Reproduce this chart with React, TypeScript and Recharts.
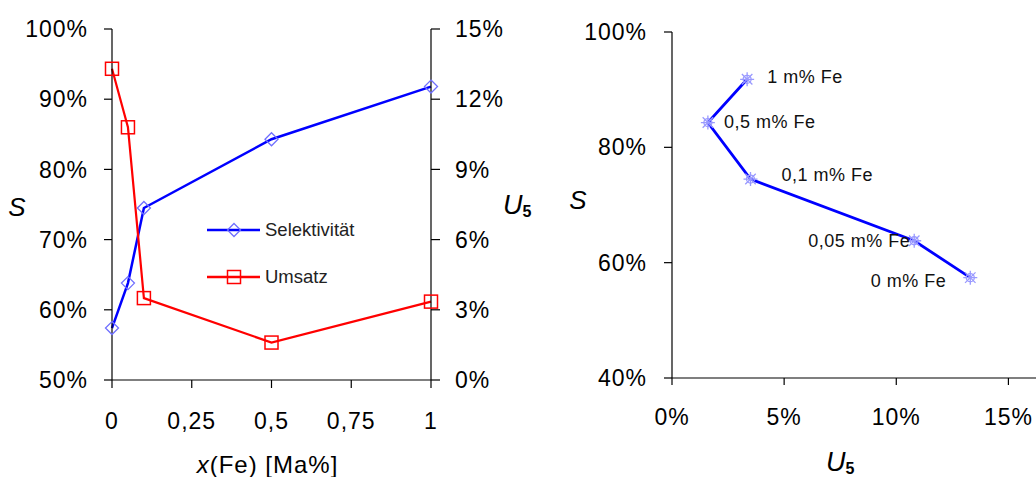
import { LineChart, Line, XAxis, YAxis, LabelList } from "recharts";

// Fe content of the catalysts [Ma%]
const xFe = [0, 0.05, 0.1, 0.5, 1];
// Selektivität S [%]
const selectivity = [57.4, 63.8, 74.5, 84.3, 91.8];
// Umsatz U5 [%]
const conversion = [13.3, 10.8, 3.5, 1.6, 3.35];

const leftXTicks = [0, 0.25, 0.5, 0.75, 1];
const leftSTicks = [50, 60, 70, 80, 90, 100];
const leftUTicks = [0, 3, 6, 9, 12, 15];
const rightUTicks = [0, 5, 10, 15];
const rightSTicks = [40, 60, 80, 100];

const leftData = xFe.map((x, i) => ({ x, s: selectivity[i], u: conversion[i] }));
const rightData = xFe.map((x, i) => ({
  name: `${String(x).replace(".", ",")} m% Fe`,
  u: conversion[i],
  s: selectivity[i],
}));

const FONT = "'Liberation Sans', Arial, sans-serif";
const tickStyle = { fill: "#000", fontSize: 23, fontFamily: FONT, letterSpacing: 1 };
const axisLine = { stroke: "#000", strokeWidth: 1.2 };
const pct = (v: number) => `${v}%`;
const comma = (v: number) => String(v).replace(".", ",");

// where each point label sits relative to its marker (right chart)
const labelPlacement = [
  { dx: -24, dy: 3, anchor: "end" },
  { dx: -4, dy: 0, anchor: "end" },
  { dx: 31, dy: -4, anchor: "start" },
  { dx: 16, dy: -1, anchor: "start" },
  { dx: 20, dy: -2, anchor: "start" },
];

function Diamond({ cx, cy }: any) {
  const r = 6.5;
  return (
    <path
      d={`M${cx},${cy - r}L${cx + r},${cy}L${cx},${cy + r}L${cx - r},${cy}Z`}
      fill="none"
      stroke="#6f6fff"
      strokeWidth={1.3}
    />
  );
}

function Square({ cx, cy }: any) {
  const r = 6.5;
  return <rect x={cx - r} y={cy - r} width={2 * r} height={2 * r} fill="none" stroke="#ff0000" strokeWidth={1.5} />;
}

function Star({ cx, cy }: any) {
  const r = 7;
  const d = r * 0.75;
  return (
    <g stroke="#9a9aff" strokeWidth={1.3} fill="none">
      <path d={`M${cx - d},${cy - d}L${cx + d},${cy + d}M${cx - d},${cy + d}L${cx + d},${cy - d}`} />
      <path d={`M${cx - r},${cy}L${cx + r},${cy}M${cx},${cy - r}L${cx},${cy + r}`} />
      <circle cx={cx} cy={cy} r={4} />
    </g>
  );
}

function LegendBox() {
  const rows = [
    { label: "Selektivität", color: "#0000ff", Mark: Diamond },
    { label: "Umsatz", color: "#ff0000", Mark: Square },
  ];
  return (
    <div style={{ position: "absolute", left: 205, top: 206 }}>
      {rows.map(({ label, color, Mark }) => (
        <div key={label} style={{ display: "flex", alignItems: "center", height: 47 }}>
          <svg width={60} height={20}>
            <line x1={2} y1={10} x2={55} y2={10} stroke={color} strokeWidth={2.5} />
            <Mark cx={29} cy={10} />
          </svg>
          <span style={{ fontFamily: FONT, fontSize: 18.5, color: "#222" }}>{label}</span>
        </div>
      ))}
    </div>
  );
}

function SLabel({ x, y }: { x: number; y: number }) {
  return (
    <text x={x} y={y} fontFamily={FONT} fontSize={26} fontStyle="italic" textAnchor="middle" dominantBaseline="central">
      S
    </text>
  );
}

function ULabel({ x, y }: { x: number; y: number }) {
  return (
    <text x={x} y={y} fontFamily={FONT} textAnchor="start" dominantBaseline="central">
      <tspan fontSize={27} fontStyle="italic">U</tspan>
      <tspan fontSize={16} fontWeight="bold" dy={6}>5</tspan>
    </text>
  );
}

function PointLabel(props: any) {
  const { x, y, value, index } = props;
  const p = labelPlacement[index];
  return (
    <text
      x={x + p.dx}
      y={y + p.dy}
      fontFamily={FONT}
      fontSize={18}
      letterSpacing={0.5}
      fill="#111"
      textAnchor={p.anchor}
      dominantBaseline="central"
    >
      {value}
    </text>
  );
}

export default function App() {
  return (
    <div style={{ position: "fixed", left: 0, top: 0, width: 1036, height: 477, background: "#fff", overflow: "hidden" }}>
      <div style={{ position: "absolute", left: 0, top: 0 }}>
        <LineChart width={540} height={477} data={leftData} margin={{ top: 29, right: 29, bottom: 37, left: 0 }}>
          <XAxis
            dataKey="x"
            type="number"
            domain={[0, 1]}
            ticks={leftXTicks}
            tickFormatter={comma}
            tick={tickStyle}
            axisLine={axisLine}
            tickLine={axisLine}
            tickSize={8}
            tickMargin={25}
            height={60}
            label={{
              content: ({ viewBox }: any) => (
                <text
                  x={viewBox.x + viewBox.width / 2 - 4}
                  y={464}
                  fontFamily={FONT}
                  fontSize={24}
                  letterSpacing={1}
                  textAnchor="middle"
                  dominantBaseline="central"
                >
                  <tspan fontStyle="italic">x</tspan>(Fe) [Ma%]
                </text>
              ),
            }}
          />
          <YAxis
            yAxisId="s"
            domain={[50, 100]}
            ticks={leftSTicks}
            tickFormatter={pct}
            tick={tickStyle}
            axisLine={axisLine}
            tickLine={axisLine}
            tickSize={8}
            tickMargin={16}
            width={112}
            label={{ content: ({ viewBox }: any) => <SLabel x={viewBox.x + 17} y={207} /> }}
          />
          <YAxis
            yAxisId="u"
            orientation="right"
            domain={[0, 15]}
            ticks={leftUTicks}
            tickFormatter={pct}
            tick={{ ...tickStyle, textAnchor: "start" }}
            axisLine={axisLine}
            tickLine={axisLine}
            tickSize={9}
            tickMargin={15}
            width={80}
            label={{ content: ({ viewBox }: any) => <ULabel x={viewBox.x + 72} y={205} /> }}
          />
          <Line
            yAxisId="s"
            dataKey="s"
            name="Selektivität"
            stroke="#0000ff"
            strokeWidth={2.5}
            dot={(p: any) => <Diamond key={`d${p.index}`} {...p} />}
            isAnimationActive={false}
          />
          <Line
            yAxisId="u"
            dataKey="u"
            name="Umsatz"
            stroke="#ff0000"
            strokeWidth={2.2}
            dot={(p: any) => <Square key={`q${p.index}`} {...p} />}
            isAnimationActive={false}
          />
        </LineChart>
        <LegendBox />
      </div>
      <div style={{ position: "absolute", left: 540, top: 0 }}>
        <LineChart width={496} height={477} data={rightData} margin={{ top: 32, right: 0, bottom: 39, left: 0 }}>
          <XAxis
            dataKey="u"
            type="number"
            domain={[0, 16.23]}
            ticks={rightUTicks}
            tickFormatter={pct}
            tick={tickStyle}
            axisLine={axisLine}
            tickLine={axisLine}
            tickSize={7}
            tickMargin={24}
            height={60}
            allowDataOverflow
            label={{ content: ({ viewBox }: any) => <ULabel x={viewBox.x + 154} y={462} /> }}
          />
          <YAxis
            dataKey="s"
            type="number"
            domain={[40, 100]}
            ticks={rightSTicks}
            tickFormatter={pct}
            tick={tickStyle}
            axisLine={axisLine}
            tickLine={axisLine}
            tickSize={8}
            tickMargin={17}
            width={132}
            label={{ content: ({ viewBox }: any) => <SLabel x={viewBox.x + 38} y={200} /> }}
          />
          <Line
            dataKey="s"
            stroke="#0000ff"
            strokeWidth={2.8}
            dot={(p: any) => <Star key={`s${p.index}`} {...p} />}
            isAnimationActive={false}
          >
            <LabelList dataKey="name" content={PointLabel} />
          </Line>
        </LineChart>
      </div>
    </div>
  );
}
